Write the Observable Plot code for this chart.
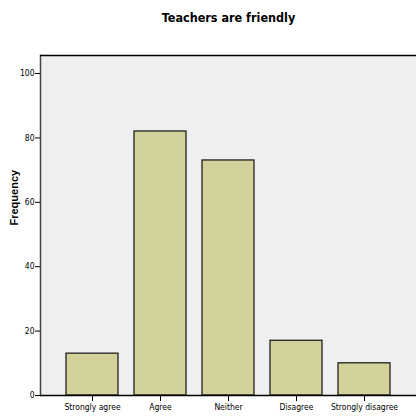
<!DOCTYPE html>
<html>
<head>
<meta charset="utf-8">
<script src="https://cdn.jsdelivr.net/npm/d3@7"></script>
<script src="https://cdn.jsdelivr.net/npm/@observablehq/plot@0.6"></script>
<style>
  body { margin: 0; background: #ffffff; }
  #chart svg { display: block; }
</style>
</head>
<body>
<div id="chart"></div>
<script>
const title = "Teachers are friendly";
const categories = ["Strongly agree", "Agree", "Neither", "Disagree", "Strongly disagree"];
const frequencies = [13, 82, 73, 17, 10];
const yTicks = [0, 20, 40, 60, 80, 100];

const data = categories.map((c, i) => ({category: c, frequency: frequencies[i]}));
const narrow = "'Liberation Sans Narrow', 'Arial Narrow', 'DejaVu Sans Condensed', sans-serif";

const chart = Plot.plot({
  width: 416,
  height: 417,
  marginLeft: 40,
  marginTop: 55,
  marginBottom: 22,
  marginRight: 0,
  style: {fontFamily: narrow, fontSize: "8.5px", background: "#ffffff", color: "#000"},
  x: {domain: categories, paddingInner: 0.235, paddingOuter: 0.382, label: null, tickSize: 6},
  y: {domain: [0, 105.6], ticks: yTicks, label: null, tickSize: 5},
  marks: [
    Plot.frame({fill: "#efefef"}),
    Plot.barY(data, {x: "category", y: "frequency", fill: "#d3d29a", stroke: "#111", strokeWidth: 1.2}),
    Plot.frame({anchor: "left", stroke: "#444", strokeWidth: 1.5}),
    Plot.axisY({ticks: yTicks, tickSize: 5, tickPadding: 1, fontSize: 8.5, label: null}),
    Plot.axisX({tickSize: 6, tickPadding: 2, fontSize: 8.5, label: null}),
    Plot.ruleY([0], {stroke: "#000", strokeWidth: 1.5}),
    Plot.ruleY([105.6], {stroke: "#000", strokeWidth: 1.5}),
    Plot.text([title], {frameAnchor: "top", dy: -42, fontSize: 12.5, fontWeight: "bold", fontFamily: narrow}),
    Plot.text(["Frequency"], {frameAnchor: "left", dx: -26, rotate: -90, fontSize: 11, fontWeight: "bold", fontFamily: "'Liberation Sans', Arial, sans-serif"})
  ]
});
document.getElementById("chart").append(chart);
</script>
</body>
</html>
